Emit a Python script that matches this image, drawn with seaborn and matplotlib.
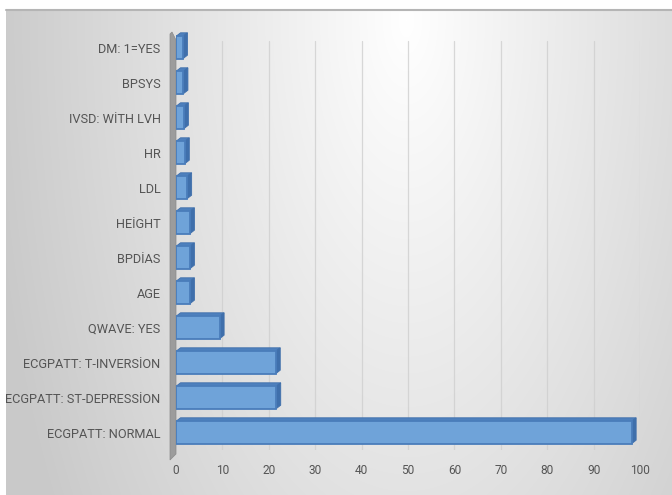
import numpy as np
import pandas as pd
import matplotlib
matplotlib.use("Agg")
import matplotlib.pyplot as plt
from matplotlib.patches import Polygon
import seaborn as sns

categories = ["DM: 1=YES", "BPSYS", "IVSD: WİTH LVH", "HR", "LDL", "HEİGHT",
              "BPDİAS", "AGE", "QWAVE: YES", "ECGPATT: T-INVERSİON",
              "ECGPATT: ST-DEPRESSİON", "ECGPATT: NORMAL"]
values = [1.5, 1.6, 1.7, 1.9, 2.4, 3.0, 3.0, 3.0, 9.4, 21.5, 21.6, 98.2]
x_ticks = [0, 10, 20, 30, 40, 50, 60, 70, 80, 90, 100]

df = pd.DataFrame({"category": categories, "value": values})

sns.set_theme(style="white")
plt.rcParams["font.family"] = ["Roboto", "DejaVu Sans"]

W, H = 672, 495
fig = plt.figure(figsize=(W / 100, H / 100), dpi=100)
fig.patch.set_facecolor("white")

# background gradient (chart area)
gh, gw = H - 10, W - 6
yy, xx = np.mgrid[0:gh, 0:gw]
dx = (xx - 400) / 420.0
dy = (yy - 10) / 900.0
d = np.sqrt(dx ** 2 + dy ** 2)
v = np.clip(1 - 0.21 * d, 0.79, 1.0)
img = np.dstack([v, v, v])
fig.figimage(img, xo=6, yo=0, origin="upper", zorder=-5)
fig.add_artist(plt.Line2D([6 / W, 1], [1 - 10 / H, 1 - 10 / H], color="#b5b5b5",
                          lw=1.5, transform=fig.transFigure, zorder=-1))

left, right = 176 / W, 640 / W
bottom, top = 1 - 450 / H, 1 - 30 / H
ax = fig.add_axes([left, bottom, right - left, top - bottom])
ax.patch.set_alpha(0)

sns.barplot(data=df, y="category", x="value", order=categories, orient="h",
            color="#6fa3d9", width=0.64, saturation=1, edgecolor="#4a7dbb",
            linewidth=1.3, ax=ax, zorder=3)

ax.set_xlim(0, 100)
ax.set_ylim(len(categories) - 0.5, -0.5)
ax.set_xticks(x_ticks)
ax.set_xticklabels([str(t) for t in x_ticks])
ax.set_xlabel("")
ax.set_ylabel("")
for s in ax.spines.values():
    s.set_visible(False)
ax.tick_params(axis="both", length=0, colors="#595959")
ax.tick_params(axis="y", labelsize=9.2, pad=11)
ax.tick_params(axis="x", labelsize=8.6, pad=10)
for t in ax.get_xticklabels() + ax.get_yticklabels():
    t.set_color("#555555")

for t in x_ticks[1:]:
    ax.axvline(t, ymax=0.975, color="#cfcfcf", lw=0.9, alpha=0.8, zorder=1)

# 3D faces of the bars (derived from the bars drawn by seaborn)
fig.canvas.draw()
to_disp = ax.transData
to_data = ax.transData.inverted()
ddx, ddy = 4.5, 3.5  # depth in pixels
for p in list(ax.patches):
    x0, y0 = p.get_x(), p.get_y()
    w, h = p.get_width(), p.get_height()
    (X0, Yb), (X1, Yt) = to_disp.transform([(x0, y0 + h), (x0 + w, y0)])
    top_face = [(X0, Yt), (X1, Yt), (X1 + ddx, Yt + ddy), (X0 + ddx, Yt + ddy)]
    side_face = [(X1, Yb), (X1 + ddx, Yb + ddy), (X1 + ddx, Yt + ddy), (X1, Yt)]
    for poly, col in ((top_face, "#4e80bd"), (side_face, "#3f6fab")):
        pts = to_data.transform(poly)
        ax.add_patch(Polygon(pts, closed=True, facecolor=col, edgecolor="#3f6fab",
                             lw=0.6, zorder=2.9))

# left wall
wall = [(170, 460), (176, 454), (176, 40), (172, 32), (170, 34)]
wall_fig = [(x / W, 1 - y / H) for x, y in wall]
fig.add_artist(Polygon(wall_fig, closed=True, facecolor="#9c9c9c",
                       edgecolor="#8a8a8a", lw=0.5, transform=fig.transFigure, zorder=-1))

fig.savefig("out.png", dpi=100)
